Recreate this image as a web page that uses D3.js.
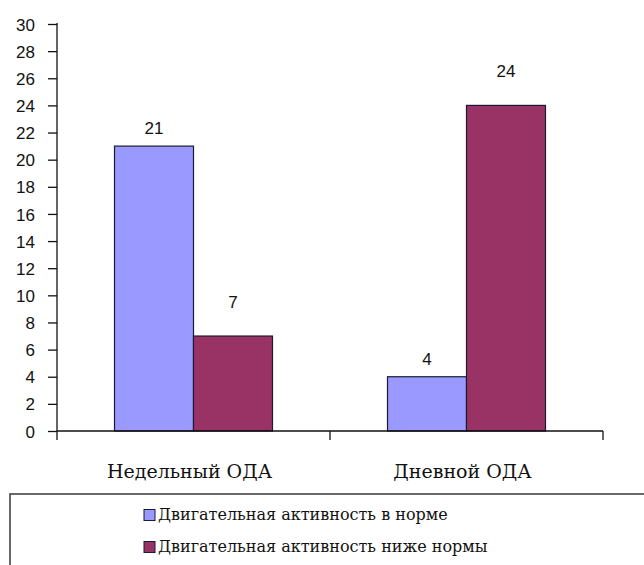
<!DOCTYPE html>
<html><head><meta charset="utf-8">
<script src="https://cdn.jsdelivr.net/npm/d3@7"></script>
<style>body{margin:0;background:#fff}</style>
</head><body>
<svg id="c" width="644" height="565"></svg>
<script>
const categories = ["Недельный ОДА", "Дневной ОДА"];
const seriesNames = ["Двигательная активность в норме", "Двигательная активность ниже нормы"];
const seriesNorm = [21, 4];
const seriesBelow = [7, 24];
const yTicks = [0,2,4,6,8,10,12,14,16,18,20,22,24,26,28,30];

const series = [seriesNorm, seriesBelow];
const colors = ["#9999FF", "#993366"];
const labelGap = [18, 34];
const serif = "'DejaVu Serif', 'Liberation Serif', serif";
const sans = "'Liberation Sans', Arial, sans-serif";

const svg = d3.select("#c");
const x0 = 57, x1 = 603, yTop = 24, yBot = 431;
const y = d3.scaleLinear().domain([0, 30]).range([yBot, yTop]);
const xb = d3.scaleBand().domain(categories).range([x0, x1]).paddingInner(0).paddingOuter(0);
const xs = d3.scaleBand().domain(d3.range(series.length)).range([0, xb.bandwidth()]).paddingInner(0).paddingOuter(0.728);

// bars
categories.forEach((c, ci) => {
  series.forEach((s, si) => {
    const bx = xb(c) + xs(si);
    svg.append("rect")
      .attr("x", bx).attr("y", y(s[ci]))
      .attr("width", xs.bandwidth()).attr("height", y(0) - y(s[ci]))
      .attr("fill", colors[si]).attr("stroke", "#1a1a33").attr("stroke-width", 1.2);
    svg.append("text")
      .attr("x", bx + xs.bandwidth()/2).attr("y", y(s[ci]) - labelGap[si] + 6)
      .attr("text-anchor", "middle")
      .style("font-family", sans).style("font-size", "17px")
      .attr("fill", "#111").text(s[ci]);
  });
});

// y axis
const yAxis = d3.axisLeft(y).tickValues(yTicks).tickSize(9).tickPadding(13).tickSizeOuter(0);
const gy = svg.append("g").attr("transform", `translate(${x0},0)`).call(yAxis);
gy.selectAll("text").style("font-family", sans).style("font-size", "17px").attr("fill", "#111").attr("dy", "0.36em");
gy.selectAll("line,path").attr("stroke", "#111").attr("stroke-width", 1.3);
gy.select(".domain").attr("d", `M0,${yTop - 1}V${yBot}`);

// x axis
const gx = svg.append("g").attr("transform", `translate(0,${yBot})`);
gx.append("line").attr("x1", x0).attr("x2", x1).attr("stroke", "#111").attr("stroke-width", 1.3);
const bounds = [x0].concat(categories.map(c => xb(c) + xb.bandwidth()));
gx.selectAll("line.t").data(bounds).join("line").attr("class", "t")
  .attr("x1", d => d).attr("x2", d => d).attr("y1", 0).attr("y2", 9)
  .attr("stroke", "#111").attr("stroke-width", 1.3);
gx.selectAll("text").data(categories).join("text")
  .attr("x", d => xb(d) + xb.bandwidth()/2 - 4).attr("y", 47)
  .attr("text-anchor", "middle")
  .style("font-family", serif).style("font-size", "19px")
  .attr("fill", "#111").text(d => d);

// legend
svg.append("rect").attr("x", 10).attr("y", 494).attr("width", 700).attr("height", 200)
  .attr("fill", "none").attr("stroke", "#444").attr("stroke-width", 1.6);
const lg = svg.append("g");
seriesNames.forEach((n, i) => {
  const ly = 515 + i * 32;
  lg.append("rect").attr("x", 144).attr("y", ly - 5.5).attr("width", 11).attr("height", 11)
    .attr("fill", colors[i]).attr("stroke", "#1a1a33").attr("stroke-width", 1);
  lg.append("text").attr("x", 158).attr("y", ly + 5)
    .style("font-family", serif).style("font-size", "16px")
    .attr("fill", "#111").text(n);
});
</script>
</body></html>
